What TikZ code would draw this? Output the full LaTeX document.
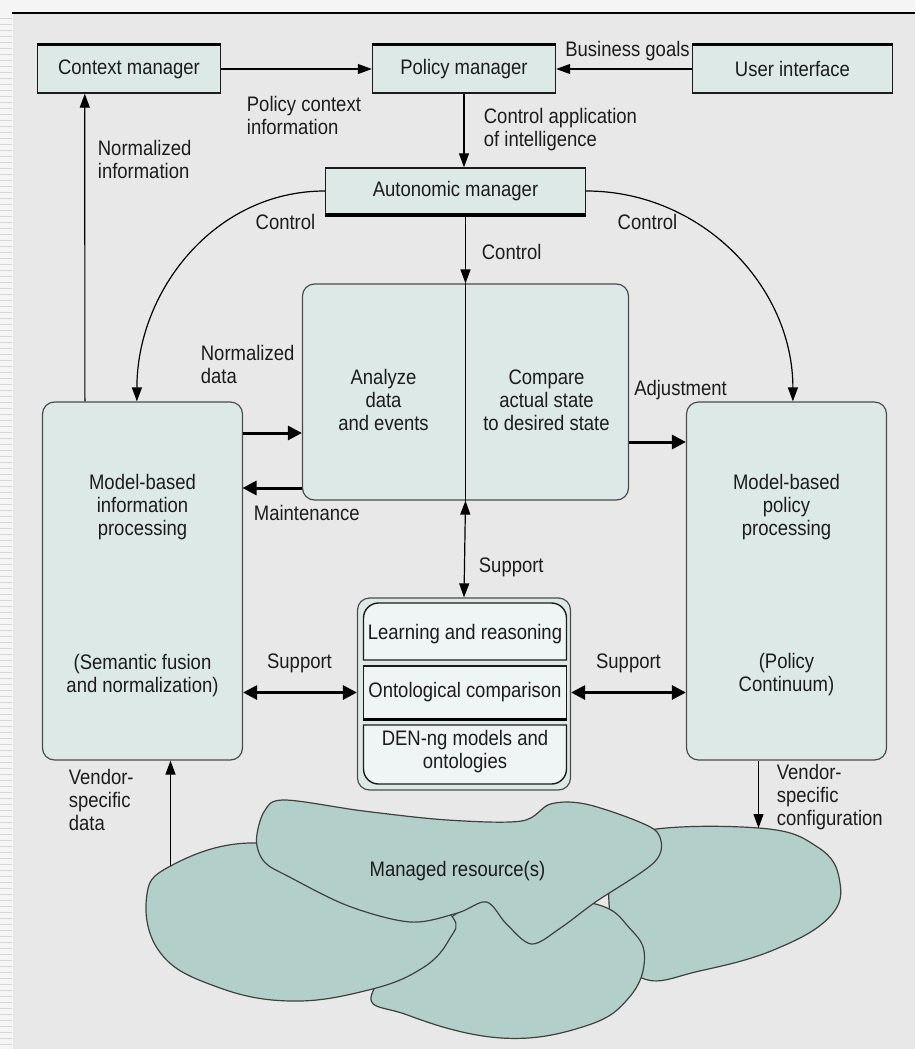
\documentclass[tikz,border=0pt]{standalone}
\usepackage{fontspec}
\setmainfont{Liberation Sans}[FakeStretch=0.88]
\usetikzlibrary{arrows.meta,positioning}

\definecolor{bgpanel}{RGB}{232,232,232}
\definecolor{boxfill}{RGB}{221,233,231}
\definecolor{slabfill}{RGB}{239,244,244}
\definecolor{cloudfill}{RGB}{179,207,201}
\definecolor{inkdark}{RGB}{28,28,28}

\begin{document}
\begin{tikzpicture}[
                    x=0.5pt, y=-0.5pt,
                    font=\fontsize{10.5}{11.5}\selectfont,
                    every node/.style={
                        text=inkdark,
                        inner sep=0pt,
                        align=center
                    },
                    box/.style={draw=inkdark, line width=0.7pt, fill=boxfill, minimum height=24pt},
                    rbox/.style={draw=black!70, line width=0.6pt, fill=boxfill, rounded corners=6pt},
                    slab/.style={draw=inkdark, line width=0.7pt, fill=slabfill},
                    lbl/.style={align=left, anchor=west},
                    cloud/.style={draw=black!75, line width=0.6pt, fill=cloudfill},
                    arr/.style={line width=0.6pt, -{Triangle[length=7pt,width=5pt]}},
                    heavy/.style={line width=1.5pt, -{Triangle[length=7pt,width=7pt]}},
                    both/.style={line width=1.5pt, {Triangle[length=7pt,width=7pt]}-{Triangle[length=7pt,width=7pt]}},
                    thin both/.style={line width=0.6pt, {Triangle[length=7pt,width=5pt]}-{Triangle[length=7pt,width=5pt]}},
                    topedge/.style={line width=1.8pt}
                ]

    % page and panel
    \fill[black!4] (0,0) rectangle (914,1049);
    \fill[bgpanel] (12,14) rectangle (914,1049);
    \foreach \s in {18,24,...,1046}
        \draw[black!16, line width=0.5pt] (0,\s) -- (11,\s);
    \draw[line width=1.2pt] (11,13) -- (914,13);

    % Managed resources
    \filldraw[cloud] plot[smooth cycle, tension=0.7] coordinates {
        (634,833) (758,828) (817,847) (839,880) (829,917) (773,950)
        (699,971) (644,979) (615,942) (610,869)};
    \filldraw[cloud] plot[smooth cycle, tension=0.7] coordinates {
        (457,913) (373,990) (407,1015) (501,1038) (585,1026) (629,997)
        (644,957) (629,928) (595,904) (516,898)};
    \filldraw[cloud] plot[smooth cycle, tension=0.7] coordinates {
        (249,843) (170,866) (146,898) (160,953) (214,986) (289,1001)
        (368,990) (422,968) (449,939) (452,917) (412,888) (338,862)};
    \filldraw[cloud] plot[smooth cycle, tension=0.55] coordinates {
        (256,840) (264,811) (284,800) (363,811) (447,820) (521,821)
        (550,804) (585,804) (639,822) (659,836) (654,862) (595,902)
        (560,928) (531,944) (506,924) (486,902) (457,913) (410,922)
        (348,906) (289,877) (264,862)};
    \node (res) at (457,871) {Managed resource(s)};

    % Managers
    \node[box, minimum width=91.5pt] (ctx) at (128.5,69) {Context manager};
    \node[box, minimum width=91.5pt] (pol) at (463.5,69) {Policy manager};
    \node[box, minimum width=100pt] (ui) at (792,69) {User interface};
    \node[box, minimum width=130pt, minimum height=23pt] (auto) at (455,191) {Autonomic manager};
    \foreach \n in {ctx,pol,ui}
        \draw[topedge] (\n.north west) -- (\n.north east);
    \draw[topedge] (auto.south west) -- (auto.south east);

    % Processing boxes
    \node[rbox, minimum width=163pt, minimum height=108pt] (cmp) at (465,392) {};
    \node[rbox, minimum width=100pt, minimum height=179pt] (lmod) at (142,581) {};
    \node[rbox, minimum width=100pt, minimum height=179pt] (rmod) at (786,581) {};
    \node (ana) at (383,400) {Analyze\\data\\and events};
    \node (des) at (546,400) {Compare\\actual state\\to desired state};
    \node (lmodt) at (142,507) {Model-based\\information\\processing};
    \node (lmodb) at (142,676) {(Semantic fusion\\and normalization)};
    \node (rmodt) at (786,507) {Model-based\\policy\\processing};
    \node (rmodb) at (786,675) {(Policy\\Continuum)};

    % Models and ontologies
    \node[rbox, minimum width=106.5pt, minimum height=96pt] (stack) at (463.5,694) {};
    \filldraw[slab] (363,660) -- (363,618) arc[start angle=180, end angle=270, radius=15]
        -- (551,603) arc[start angle=270, end angle=360, radius=15] -- (566,660) -- cycle;
    \node (learn) at (464.5,634) {Learning and reasoning};
    \node[slab, minimum width=101.5pt, minimum height=26.5pt] (onto) at (464.5,692.5) {Ontological comparison};
    \draw[line width=1.5pt] (onto.south west) -- (onto.south east);
    \filldraw[slab] (363,725) -- (566,725) -- (566,769) arc[start angle=0, end angle=90, radius=15]
        -- (378,784) arc[start angle=90, end angle=180, radius=15] -- cycle;
    \node (den) at (464.5,752) {DEN-ng models and\\ontologies};

    % Edges
    \coordinate (nd) at (242,433);
    \coordinate (mt) at (242,488);
    \coordinate (adj) at (650,442);
    \coordinate (vd) at (170,866);
    \coordinate (vc) at (758,828);
    \draw[arr] (ctx) -- (pol);
    \draw[arr] (ui) -- (pol);
    \draw[arr] (pol.south) -- (pol.south |- auto.north);
    \draw[arr] (auto.south -| cmp.north) -- (cmp.north);
    \draw[line width=0.6pt] (cmp.north) -- (cmp.south);
    \draw[thin both] (cmp.south) -- (stack.north);
    \draw[arr] (auto.west) to[out=180, in=90] ([xshift=47.5pt]lmod.north west);
    \draw[arr] (auto.east) to[out=0, in=90] ([xshift=53.5pt]rmod.north west);
    \draw[arr] ([xshift=21.5pt]lmod.north west) -- ([xshift=24pt]ctx.south west);
    \draw[heavy] (nd) -- (nd -| cmp.west);
    \draw[heavy] (mt -| cmp.west) -- (mt);
    \draw[heavy] (adj -| cmp.east) -- (adj -| rmod.west);
    \draw[both] (lmod.east |- onto) -- (stack.west |- onto);
    \draw[both] (stack.east |- onto) -- (rmod.west |- onto);
    \draw[arr] (vd) -- (vd |- lmod.south);
    \draw[arr] (vc |- rmod.south) -- (vc);

    % Labels
    \node (goals) at (627,51) {Business goals};
    \node[lbl] (pci) at (246,115) {Policy context\\information};
    \node[lbl] (cai) at (483,130) {Control application\\of intelligence};
    \node[lbl] (nin) at (97,159) {Normalized\\information};
    \node (ctl1) at (285,222) {Control};
    \node (ctl2) at (647,222) {Control};
    \node[lbl] (ctl3) at (481,252) {Control};
    \node[lbl] (ndat) at (200,364) {Normalized\\data};
    \node (adjt) at (680,390) {Adjustment};
    \node[lbl] (mnt) at (253,513) {Maintenance};
    \node[lbl] (sup) at (478,567) {Support};
    \node (supl) at (299,663) {Support};
    \node (supr) at (628,663) {Support};
    \node[lbl] (vdat) at (68,800) {Vendor-\\specific\\data};
    \node[lbl] (vcfg) at (776,797) {Vendor-\\specific\\configuration};
\end{tikzpicture}
\end{document}
